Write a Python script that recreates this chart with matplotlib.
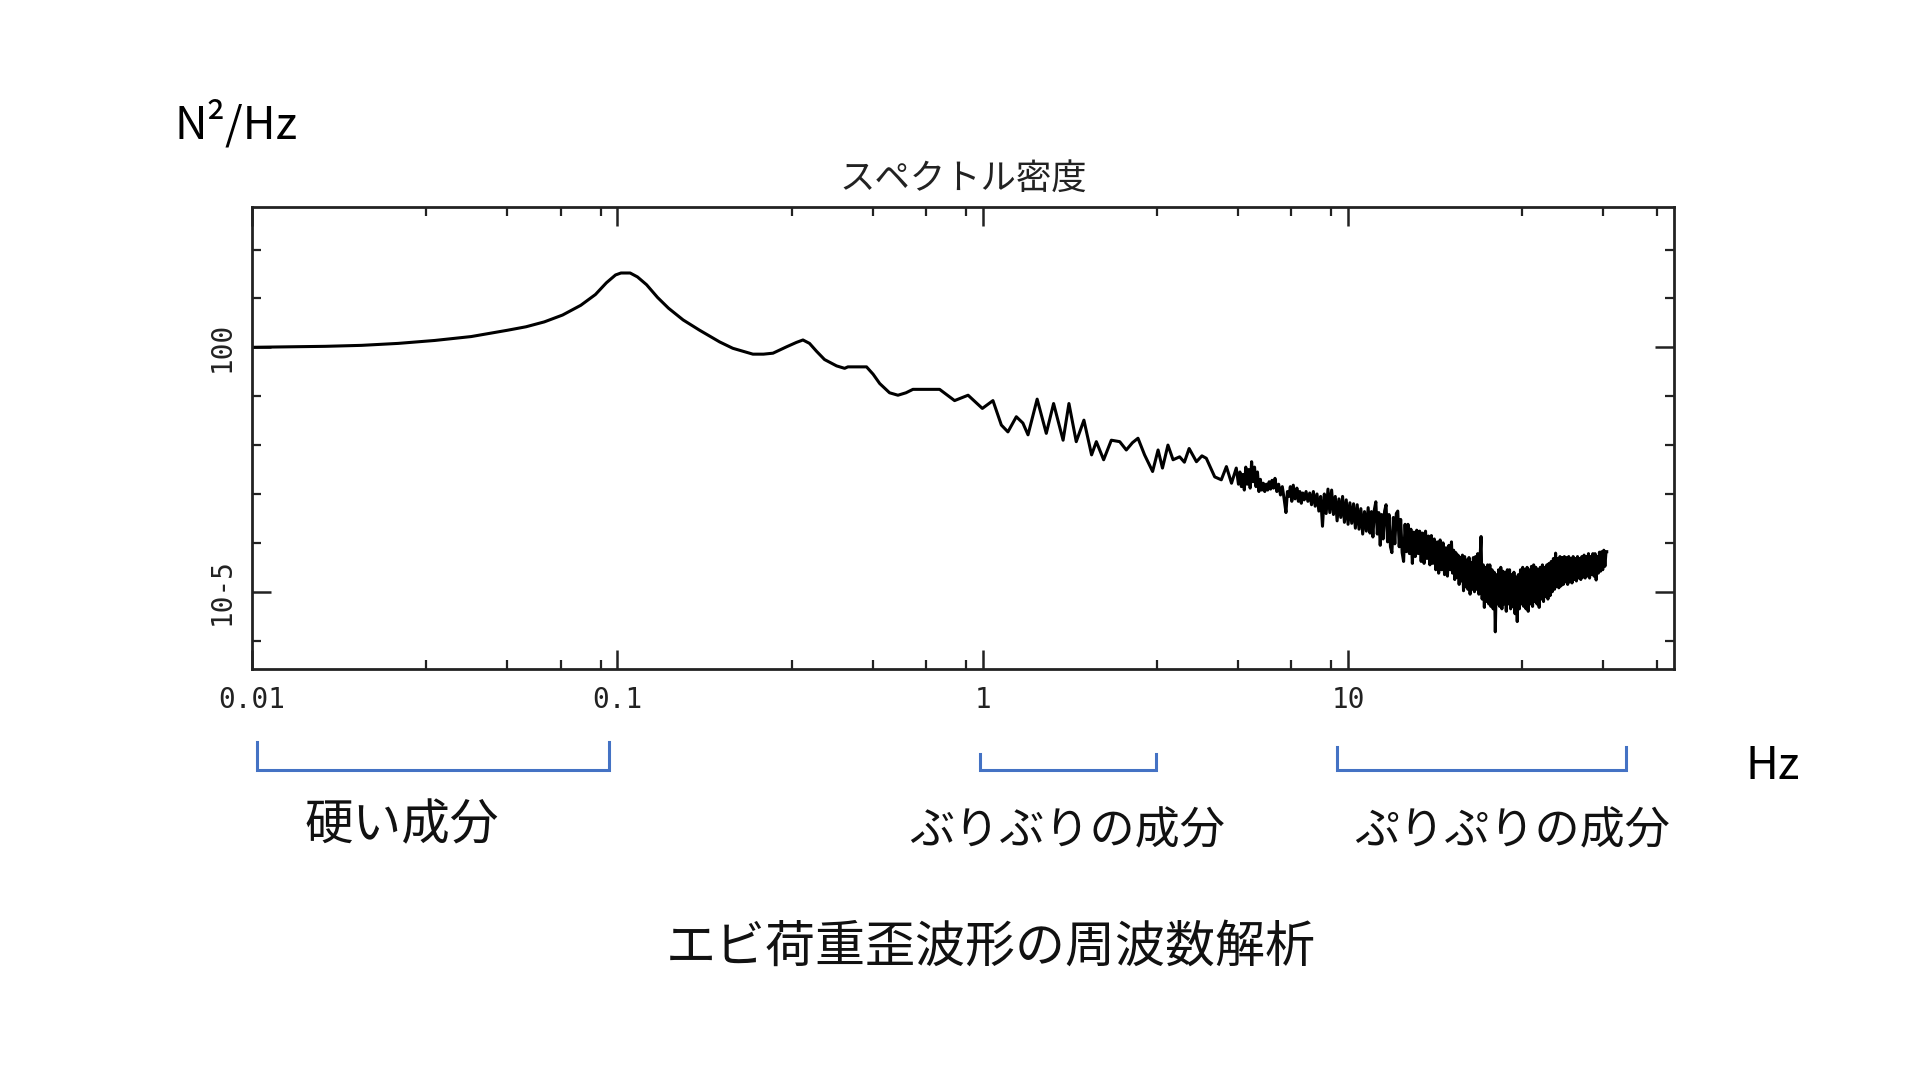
import matplotlib
matplotlib.use("Agg")
import matplotlib.pyplot as plt
from matplotlib.ticker import FixedLocator, FixedFormatter, NullFormatter
from matplotlib.transforms import blended_transform_factory
import numpy as np

plt.rcParams['font.family'] = ['Noto Sans CJK JP', 'DejaVu Sans']

# ---- data ----
# low-frequency part: log10 of frequency [Hz] and log10 of spectral density [N^2/Hz]
log10_freq_low = [
    -2.000, -1.900, -1.800, -1.700, -1.600, -1.500, -1.400, -1.300, -1.250, -1.200,
    -1.150, -1.100, -1.060, -1.030, -1.005, -0.990, -0.965, -0.945, -0.920, -0.890,
    -0.860, -0.820, -0.775, -0.720, -0.684, -0.629, -0.600, -0.574, -0.537, -0.510,
    -0.492, -0.474, -0.455, -0.433, -0.400, -0.378, -0.369, -0.318, -0.300, -0.282,
    -0.255, -0.232, -0.210, -0.191, -0.118, -0.100, -0.077, -0.040, -0.001, 0.028,
    0.051, 0.069, 0.092, 0.110, 0.124, 0.149, 0.174, 0.194, 0.220, 0.236,
    0.256, 0.277, 0.298, 0.311, 0.331, 0.352, 0.375, 0.393, 0.410, 0.425,
    0.443, 0.465, 0.480, 0.492, 0.507, 0.521, 0.539, 0.552, 0.565, 0.585,
    0.600, 0.612, 0.635, 0.653, 0.667, 0.681, 0.694,
]
log10_psd_low = [
    0.00, 0.01, 0.02, 0.04, 0.08, 0.14, 0.22, 0.35, 0.42, 0.52,
    0.66, 0.86, 1.08, 1.32, 1.48, 1.52, 1.52, 1.44, 1.28, 1.02,
    0.80, 0.56, 0.35, 0.11, -0.02, -0.14, -0.14, -0.12, 0.01, 0.10,
    0.15, 0.08, -0.08, -0.25, -0.38, -0.43, -0.40, -0.40, -0.55, -0.74,
    -0.93, -0.98, -0.93, -0.86, -0.86, -0.96, -1.09, -0.98, -1.25, -1.09,
    -1.59, -1.73, -1.42, -1.55, -1.79, -1.06, -1.76, -1.15, -1.90, -1.15,
    -1.93, -1.49, -2.20, -1.93, -2.30, -1.90, -1.93, -2.10, -1.95, -1.86,
    -2.20, -2.54, -2.10, -2.47, -2.00, -2.30, -2.24, -2.35, -2.07, -2.34,
    -2.22, -2.27, -2.65, -2.71, -2.44, -2.78, -2.47,
]
# high-frequency (noisy) part
log10_freq_high = [
    0.700, 0.704, 0.708, 0.712, 0.716, 0.720, 0.724, 0.728, 0.732, 0.736,
    0.740, 0.744, 0.748, 0.752, 0.756, 0.760, 0.764, 0.768, 0.772, 0.776,
    0.780, 0.784, 0.788, 0.792, 0.796, 0.800, 0.805, 0.810, 0.815, 0.820,
    0.825, 0.830, 0.834, 0.838, 0.842, 0.846, 0.850, 0.855, 0.860, 0.864,
    0.868, 0.872, 0.876, 0.880, 0.885, 0.890, 0.895, 0.900, 0.905, 0.910,
    0.915, 0.920, 0.925, 0.930, 0.935, 0.940, 0.945, 0.950, 0.955, 0.960,
    0.965, 0.970, 0.975, 0.980, 0.985, 0.990, 0.995, 1.000, 1.005, 1.010,
    1.015, 1.020, 1.025, 1.030, 1.035, 1.040, 1.045, 1.050, 1.055, 1.060,
    1.064, 1.068, 1.072, 1.076, 1.080, 1.084, 1.088, 1.092, 1.096, 1.100,
    1.104, 1.108, 1.112, 1.116, 1.120, 1.124, 1.128, 1.132, 1.136, 1.140,
    1.144, 1.148, 1.152, 1.156, 1.160, 1.164, 1.168, 1.172, 1.176, 1.180,
    1.184, 1.188, 1.192, 1.196, 1.200, 1.204, 1.208, 1.212, 1.216, 1.220,
    1.224, 1.228, 1.232, 1.236, 1.240, 1.244, 1.248, 1.252, 1.256, 1.260,
    1.264, 1.268, 1.272, 1.276, 1.280, 1.283, 1.286, 1.289, 1.292, 1.295,
    1.298, 1.301, 1.304, 1.307, 1.310, 1.313, 1.316, 1.319, 1.322, 1.325,
    1.328, 1.331, 1.334, 1.337, 1.340, 1.343, 1.346, 1.349, 1.352, 1.355,
    1.358, 1.361, 1.364, 1.367, 1.370, 1.373, 1.376, 1.379, 1.382, 1.385,
    1.388, 1.391, 1.394, 1.397, 1.400, 1.403, 1.406, 1.409, 1.412, 1.415,
    1.418, 1.421, 1.424, 1.427, 1.430, 1.433, 1.436, 1.439, 1.442, 1.445,
    1.448, 1.451, 1.454, 1.457, 1.460, 1.463, 1.466, 1.469, 1.472, 1.475,
    1.478, 1.481, 1.484, 1.487, 1.490, 1.493, 1.496, 1.499, 1.502, 1.505,
    1.508, 1.511, 1.514, 1.517, 1.520, 1.523, 1.526, 1.529, 1.532, 1.535,
    1.538, 1.541, 1.544, 1.547, 1.550, 1.553, 1.556, 1.559, 1.562, 1.565,
    1.568, 1.571, 1.574, 1.577, 1.580, 1.583, 1.586, 1.589, 1.592, 1.595,
    1.598, 1.601, 1.604, 1.607, 1.610, 1.613, 1.616, 1.619, 1.622, 1.625,
    1.628, 1.631, 1.634, 1.637, 1.640, 1.643, 1.646, 1.649, 1.652, 1.655,
    1.658, 1.661, 1.664, 1.667, 1.670, 1.673, 1.676, 1.679, 1.682, 1.685,
    1.688, 1.691, 1.694, 1.697, 1.700, 1.703, 1.706, 1.708,
]
log10_psd_high = [
    -2.80, -2.55, -2.85, -2.60, -2.92, -2.45, -2.80, -2.50, -2.88, -2.34,
    -2.75, -2.45, -2.85, -2.55, -2.95, -2.70, -2.92, -2.78, -2.95, -2.80,
    -2.92, -2.75, -2.90, -2.72, -2.88, -2.68, -2.95, -2.80, -3.02, -2.85,
    -3.10, -3.38, -2.95, -3.05, -2.85, -3.15, -2.82, -3.10, -2.88, -3.15,
    -2.95, -3.19, -2.98, -3.12, -2.95, -3.15, -2.98, -3.22, -2.95, -3.25,
    -3.00, -3.35, -3.05, -3.66, -3.00, -3.40, -2.90, -3.38, -2.92, -3.42,
    -3.05, -3.55, -3.10, -3.48, -3.05, -3.58, -3.12, -3.62, -3.18, -3.60,
    -3.20, -3.70, -3.22, -3.72, -3.30, -3.82, -3.36, -3.76, -3.28, -3.80,
    -3.36, -3.88, -3.32, -3.16, -3.82, -3.38, -4.05, -3.42, -3.92, -3.35,
    -3.22, -3.98, -3.42, -4.08, -4.20, -3.48, -4.02, -3.40, -3.35, -4.08,
    -3.52, -4.20, -4.38, -3.62, -4.18, -3.62, -4.22, -3.72, -4.42, -3.78,
    -4.28, -3.74, -4.22, -3.76, -4.38, -3.80, -4.42, -3.76, -4.32, -3.86,
    -4.45, -3.85, -4.42, -3.92, -4.55, -3.98, -4.62, -3.94, -4.55, -4.00,
    -4.65, -4.10, -4.68, -4.05, -4.55, -3.98, -4.62, -4.15, -4.75, -4.20,
    -4.70, -4.25, -4.85, -4.30, -4.78, -4.25, -4.98, -4.28, -4.90, -4.35,
    -4.95, -4.30, -5.05, -4.40, -4.95, -4.30, -5.00, -4.28, -4.95, -4.22,
    -5.05, -4.35, -3.87, -5.15, -4.45, -5.32, -4.50, -5.20, -4.45, -5.25,
    -4.45, -5.30, -4.55, -5.35, -4.60, -5.82, -4.65, -5.25, -4.55, -5.30,
    -4.50, -5.35, -4.58, -5.25, -4.60, -5.40, -4.55, -5.25, -4.55, -5.35,
    -4.65, -5.30, -4.60, -5.45, -4.70, -5.61, -4.65, -5.35, -4.55, -5.25,
    -4.50, -5.30, -4.55, -5.35, -4.50, -5.40, -4.55, -5.25, -4.48, -5.30,
    -4.45, -5.20, -4.50, -5.25, -4.55, -5.32, -4.50, -5.15, -4.45, -5.20,
    -4.50, -5.10, -4.45, -5.15, -4.42, -5.08, -4.38, -5.00, -4.32, -4.95,
    -4.21, -4.90, -4.32, -4.92, -4.28, -4.88, -4.30, -4.85, -4.28, -4.80,
    -4.30, -4.85, -4.28, -4.80, -4.32, -4.82, -4.28, -4.75, -4.32, -4.78,
    -4.28, -4.72, -4.32, -4.75, -4.28, -4.70, -4.25, -4.72, -4.28, -4.68,
    -4.22, -4.72, -4.28, -4.65, -4.22, -4.68, -4.22, -4.76, -4.28, -4.62,
    -4.19, -4.58, -4.18, -4.55, -4.15, -4.48, -4.18, -4.18,
]

x_major = [0.01, 0.1, 1, 10]
x_major_labels = ["0.01", "0.1", "1", "10"]
x_minor = [0.03, 0.05, 0.07, 0.09, 0.3, 0.5, 0.7, 0.9, 3, 5, 7, 9, 30, 50, 70]
y_major = [1e0, 1e-5]
y_major_labels = ["100", "10-5"]
y_minor = [1e2, 1e1, 1e-1, 1e-2, 1e-3, 1e-4, 1e-6]

bracket_ranges = [(0.0103, 0.095), (0.98, 2.98), (9.3, 57.7)]
bracket_labels = ["硬い成分", "ぶりぶりの成分", "ぷりぷりの成分"]

freq = 10.0 ** np.array(log10_freq_low + log10_freq_high)
psd = 10.0 ** np.array(log10_psd_low + log10_psd_high)

# ---- figure ----
fig = plt.figure(figsize=(19.2, 10.8), dpi=100)
fig.patch.set_facecolor("white")
ax = fig.add_axes([0.13125, 0.380556, 0.740625, 0.427778])

ax.plot(freq, psd, color="black", lw=2.2)
ax.set_xscale("log")
ax.set_yscale("log")
ax.set_xlim(0.01, 78)
ax.set_ylim(10 ** -6.58, 10 ** 2.87)

ax.xaxis.set_major_locator(FixedLocator(x_major))
ax.xaxis.set_major_formatter(FixedFormatter(x_major_labels))
ax.xaxis.set_minor_locator(FixedLocator(x_minor))
ax.xaxis.set_minor_formatter(NullFormatter())
ax.yaxis.set_major_locator(FixedLocator(y_major))
ax.yaxis.set_major_formatter(FixedFormatter(y_major_labels))
ax.yaxis.set_minor_locator(FixedLocator(y_minor))
ax.yaxis.set_minor_formatter(NullFormatter())

ax.tick_params(which="both", direction="in", top=True, right=True, color="#222222")
ax.tick_params(which="major", length=14, width=1.8, pad=12)
ax.tick_params(which="minor", length=6.5, width=1.6)
for lab in ax.get_xticklabels():
    lab.set_fontfamily("DejaVu Sans Mono")
    lab.set_fontsize(20)
    lab.set_color("#222222")
for lab in ax.get_yticklabels():
    lab.set_fontfamily("DejaVu Sans Mono")
    lab.set_fontsize(20)
    lab.set_rotation(90)
    lab.set_va("center")
    lab.set_color("#222222")
for sp in ax.spines.values():
    sp.set_linewidth(2.0)
    sp.set_color("#222222")

ax.set_title("スペクトル密度", fontsize=25.5, pad=13, color="#222222")

fig.text(0.0911, 0.885, "N²/Hz", fontsize=32.5, ha="left", va="center", color="black")
fig.text(0.909, 0.291, "Hz", fontsize=32.5, ha="left", va="center", color="black")

# brackets (x in data coords, y in figure coords)
trans = blended_transform_factory(ax.transData, fig.transFigure)
bracket_tops = [0.313, 0.302, 0.308]
bracket_bottom = 0.287
for (x0, x1), ytop in zip(bracket_ranges, bracket_tops):
    ax.plot([x0, x0, x1, x1], [ytop, bracket_bottom, bracket_bottom, ytop],
            transform=trans, color="#4472C4", lw=2.2, clip_on=False,
            solid_joinstyle="miter")

label_pos = [(0.209, 0.236), (0.556, 0.230), (0.7875, 0.230)]
label_sizes = [35, 32.5, 32.5]
for (lx, ly), txt, fs in zip(label_pos, bracket_labels, label_sizes):
    fig.text(lx, ly, txt, fontsize=fs, ha="center", va="center", color="#111111")

fig.text(0.516, 0.123, "エビ荷重歪波形の周波数解析", fontsize=36, ha="center", va="center",
         color="#111111")

fig.savefig("out.png", dpi=100, facecolor="white")
